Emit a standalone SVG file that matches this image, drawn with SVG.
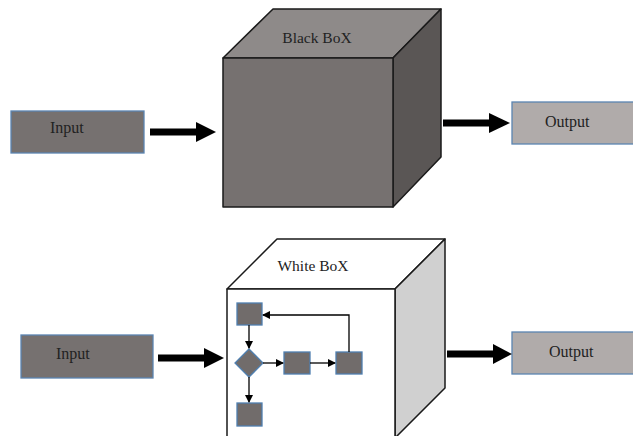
<svg xmlns="http://www.w3.org/2000/svg" width="633" height="436" viewBox="0 0 633 436">
<style>
text{font-family:"Liberation Serif","Times New Roman",serif;fill:#222;}
.lbl{font-size:16px;}
.ttl{font-size:15.5px;}
.io{fill:#767170;stroke:#5b84b1;stroke-width:1.3;}
.out{fill:#b0abaa;stroke:#5b84b1;stroke-width:1.3;}
.edge{stroke:#1a1a1a;stroke-width:1.5;stroke-linejoin:round;}
.sq{fill:#716c6b;stroke:#4f7fb0;stroke-width:1.3;}
.big{stroke:#000;stroke-width:7;fill:none;}
.thin{stroke:#000;stroke-width:1.3;fill:none;}
</style>
<defs>
<marker id="ah" markerWidth="8" markerHeight="8" refX="7" refY="4" orient="auto" markerUnits="userSpaceOnUse">
<path d="M0,0 L8,4 L0,8 Z" fill="#000"/>
</marker>
</defs>
<rect width="633" height="436" fill="#fff"/>

<g id="blackbox">
<polygon class="edge" points="223,58 273,9 441,9 393,58" fill="#8e8a89"/>
<polygon class="edge" points="393,58 441,9 441,157 393,207" fill="#5a5655"/>
<rect class="edge" x="223" y="58" width="170" height="149" fill="#767170"/>
<text class="ttl" x="317" y="43" text-anchor="middle">Black BoX</text>
</g>

<g id="input1">
<rect class="io" x="11" y="111" width="133" height="42"/>
<text class="lbl" x="50" y="133">Input</text>
</g>

<g id="output1">
<rect class="out" x="512" y="102" width="125" height="42"/>
<text class="lbl" x="545" y="127">Output</text>
</g>

<g id="whitebox">
<polygon class="edge" points="227,289 277,239 445,239 395,289" fill="#fff"/>
<polygon class="edge" points="395,289 445,239 445,388 395,438" fill="#d0d0d0"/>
<rect class="edge" x="227" y="289" width="168" height="160" fill="#fff"/>
<text class="ttl" x="313" y="271" text-anchor="middle">White BoX</text>
</g>

<g id="input2">
<rect class="io" x="21" y="335" width="132" height="43"/>
<text class="lbl" x="56" y="359">Input</text>
</g>

<g id="output2">
<rect class="out" x="512" y="332" width="125" height="42"/>
<text class="lbl" x="549" y="357">Output</text>
</g>

<g id="inner-nodes">
<rect id="sq1" class="sq" x="237" y="303" width="25" height="22"/>
<polygon id="diamond" class="sq" points="249,349 263,363 249,377 235,363"/>
<rect id="sq2" class="sq" x="284" y="352" width="26" height="22"/>
<rect id="sq3" class="sq" x="336" y="352" width="26" height="22"/>
<rect id="sq4" class="sq" x="237" y="403" width="25" height="23"/>
</g>

<g id="connectors">
<line class="big" x1="150" y1="132" x2="198" y2="132"/>
<polygon points="196,122 216,132 196,142" fill="#000"/>
<line class="big" x1="443" y1="123" x2="491" y2="123"/>
<polygon points="489,113 510,123 489,133" fill="#000"/>
<line class="big" x1="158" y1="358" x2="206" y2="358"/>
<polygon points="204,348 224,358 204,368" fill="#000"/>
<line class="big" x1="447" y1="354" x2="495" y2="354"/>
<polygon points="493,344 512,354 493,364" fill="#000"/>

<line class="thin" x1="249" y1="325" x2="249" y2="348" marker-end="url(#ah)"/>
<line class="thin" x1="263" y1="363" x2="283" y2="363" marker-end="url(#ah)"/>
<line class="thin" x1="310" y1="363" x2="335" y2="363" marker-end="url(#ah)"/>
<polyline class="thin" points="349,352 349,315 263,315" marker-end="url(#ah)"/>
<line class="thin" x1="249" y1="377" x2="249" y2="402" marker-end="url(#ah)"/>
</g>
</svg>
